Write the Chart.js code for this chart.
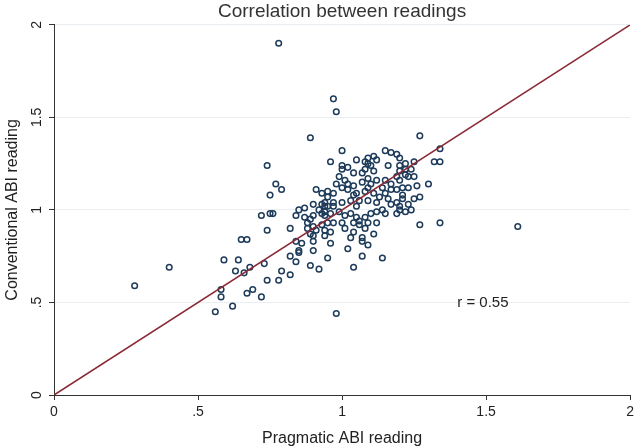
<!DOCTYPE html>
<html>
<head>
<meta charset="utf-8">
<title>Correlation between readings</title>
<script src="https://cdn.jsdelivr.net/npm/chart.js@4"></script>
<style>
  html, body { margin: 0; padding: 0; background: #fff; }
  canvas { display: block; }
</style>
</head>
<body>
<canvas id="abiChart" width="638" height="448"></canvas>
<script>
// Pragmatic (x) vs conventional (y) ABI readings, one pair per patient
const pragmatic = [
  0.28,0.40,0.56,0.62,0.58,0.58,0.67,0.69,0.72,0.74,
  0.78,0.63,0.66,0.68,0.73,0.59,0.64,0.65,0.67,0.74,
  0.72,0.75,0.76,0.74,0.77,0.79,0.75,0.91,0.82,0.84,
  0.85,0.87,0.90,0.87,0.89,0.93,0.94,0.92,0.93,0.94,
  0.95,0.88,0.89,0.90,0.91,0.94,0.86,0.90,0.85,0.85,
  0.82,0.84,0.90,0.95,0.79,0.89,0.92,0.82,0.98,0.96,
  1.02,1.07,1.09,1.07,1.04,1.14,0.97,0.98,0.89,0.78,
  1.00,0.96,1.00,1.00,1.02,1.05,1.08,1.09,1.11,1.12,
  1.09,1.10,1.08,1.11,1.15,1.19,1.16,1.20,1.20,1.22,
  1.04,1.07,1.09,0.99,1.01,0.98,1.00,1.02,1.04,1.07,
  1.09,1.08,1.10,1.12,1.14,1.15,1.17,1.19,1.20,1.22,
  0.93,0.95,0.97,1.02,1.04,1.05,1.11,1.13,1.15,1.17,
  1.19,1.21,0.94,0.97,1.00,1.03,1.06,1.09,1.12,1.16,
  1.19,1.21,1.27,1.34,1.32,1.34,1.25,1.20,1.22,1.24,
  1.23,1.25,1.30,1.26,1.23,1.27,1.25,1.21,1.23,1.20,
  1.24,1.22,1.20,1.27,1.34,1.17,1.19,1.17,1.61,0.95,
  0.97,1.05,0.90,0.94,0.96,0.99,1.01,1.03,1.05,1.06,
  1.08,1.10,1.12,1.14,1.15,0.88,0.93,0.95,0.97,1.00,
  1.01,1.04,1.06,1.08,1.09,1.12,0.84,0.90,0.94,0.96,
  1.03,1.04,1.07,1.11
];
const conventional = [
  0.59,0.69,0.45,0.48,0.57,0.53,0.55,0.57,0.53,0.62,
  0.62,0.67,0.66,0.69,0.71,0.73,0.73,0.84,0.84,0.89,
  0.97,0.98,0.98,1.24,1.14,1.11,1.08,1.11,0.90,0.97,
  1.00,1.01,1.03,0.96,0.95,1.03,1.02,1.00,0.98,0.97,
  1.07,0.90,0.87,0.91,0.89,0.89,0.82,0.83,0.78,0.77,
  0.75,0.72,0.78,0.74,0.67,0.70,0.68,0.65,0.44,0.82,
  0.79,0.83,0.81,0.75,0.69,0.74,1.60,1.53,1.39,1.90,
  1.32,1.26,1.24,1.22,1.23,1.27,1.26,1.28,1.29,1.27,
  1.25,1.24,1.22,1.21,1.32,1.30,1.24,1.28,1.24,1.25,
  1.20,1.20,1.17,1.18,1.16,1.14,1.12,1.14,1.13,1.15,
  1.12,1.10,1.14,1.16,1.12,1.16,1.14,1.18,1.16,1.19,
  1.09,1.10,1.09,1.11,1.08,1.09,1.09,1.07,1.09,1.11,
  1.11,1.12,1.04,1.04,1.04,1.05,1.05,1.05,1.04,1.06,
  1.04,1.06,1.40,1.33,1.26,1.26,1.26,1.21,1.22,1.22,
  1.18,1.18,1.14,1.13,1.12,1.07,1.06,1.08,1.03,1.02,
  1.00,0.99,1.00,0.92,0.93,1.03,0.98,1.31,0.91,1.02,
  1.02,1.02,0.97,0.99,0.98,0.99,0.97,0.98,0.96,0.94,
  0.96,0.98,0.99,1.00,0.98,0.93,0.92,0.93,0.93,0.93,
  0.90,0.93,0.92,0.90,0.93,0.93,0.83,0.86,0.86,0.88,
  0.85,0.88,0.85,0.87
];

// line of equality, both axes share the same ticks
const equalityLine = [0, 2];
const tickValues = [0, 0.5, 1, 1.5, 2];
const tickLabels = ['0', '.5', '1', '1.5', '2'];

const rText = 'r = 0.55';
const rAnchor = [1.40, 0.50];

Chart.defaults.font.family = '"Liberation Sans", Arial, sans-serif';
Chart.defaults.color = '#333';
Chart.defaults.animation = false;

const inkColor = '#333';
const markerColor = '#1d3b5a';
const lineColor = '#8a2a36';

// draws the "r = 0.55" note inside the plot
const rNote = {
  id: 'rNote',
  afterDatasetsDraw(chart) {
    const { ctx, scales: { x, y } } = chart;
    ctx.save();
    ctx.font = '15px "Liberation Sans", Arial, sans-serif';
    ctx.fillStyle = '#222';
    ctx.textAlign = 'left';
    ctx.textBaseline = 'middle';
    ctx.fillText(rText, x.getPixelForValue(rAnchor[0]), y.getPixelForValue(rAnchor[1]));
    ctx.restore();
  }
};

const setTicks = (scale) => {
  scale.ticks = tickValues.map(v => ({ value: v }));
};
const tickLabel = (value) => tickLabels[tickValues.indexOf(value)] ?? '';

const ctx = document.getElementById('abiChart').getContext('2d');
new Chart(ctx, {
  type: 'scatter',
  data: {
    datasets: [{
      type: 'line',
      label: 'Line of equality',
      data: equalityLine.map(v => ({ x: v, y: v })),
      borderColor: lineColor,
      borderWidth: 1.6,
      pointRadius: 0,
      order: 0
    }, {
      label: 'Readings',
      data: pragmatic.map((v, i) => ({ x: v, y: conventional[i] })),
      pointStyle: 'circle',
      pointRadius: 2.8,
      pointBorderWidth: 1.5,
      borderColor: markerColor,
      backgroundColor: 'rgba(0,0,0,0)',
      order: 1
    }]
  },
  options: {
    responsive: false,
    devicePixelRatio: 1,
    layout: { padding: { top: 0, right: 6, bottom: 0, left: 0 } },
    plugins: {
      legend: { display: false },
      tooltip: { enabled: false },
      title: {
        display: true,
        text: 'Correlation between readings',
        fullSize: false,
        color: '#333',
        font: { size: 19, weight: 'normal' },
        padding: { top: 0, bottom: 2 }
      }
    },
    scales: {
      x: {
        type: 'linear',
        min: 0,
        max: 2,
        afterBuildTicks: setTicks,
        afterFit: (scale) => { scale.height = 53; },
        border: { display: true, color: inkColor, width: 1 },
        grid: { drawOnChartArea: false, drawTicks: true, tickLength: 5, tickColor: inkColor },
        ticks: { callback: tickLabel, color: '#222', font: { size: 14 }, padding: 4, maxRotation: 0 },
        title: {
          display: true,
          text: 'Pragmatic ABI reading',
          color: '#222',
          font: { size: 16 },
          padding: { top: 0, bottom: 0 }
        }
      },
      y: {
        type: 'linear',
        min: 0,
        max: 2,
        afterBuildTicks: setTicks,
        afterFit: (scale) => { scale.width = 54; },
        border: { display: true, color: inkColor, width: 1 },
        grid: { color: '#e8eef2', lineWidth: 1, drawTicks: true, tickLength: 5, tickColor: inkColor },
        ticks: {
          callback: tickLabel,
          color: '#222',
          font: { size: 14 },
          padding: 2,
          minRotation: 90,
          maxRotation: 90,
          crossAlign: 'center'
        },
        title: {
          display: true,
          text: 'Conventional ABI reading',
          color: '#222',
          font: { size: 16 },
          padding: { top: 3, bottom: 0 }
        }
      }
    }
  },
  plugins: [rNote]
});
</script>
</body>
</html>
